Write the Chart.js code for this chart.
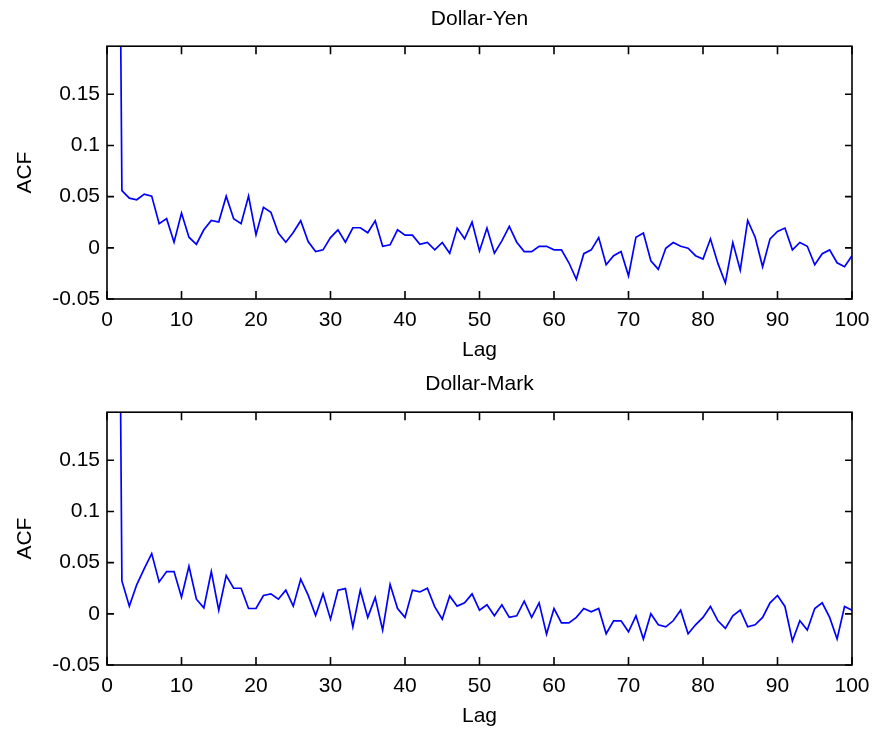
<!DOCTYPE html>
<html>
<head>
<meta charset="utf-8">
<script src="https://cdn.jsdelivr.net/npm/chart.js@4/dist/chart.umd.min.js"></script>
<style>
  html, body { margin: 0; padding: 0; background: #fff; }
  #page { position: relative; width: 879px; height: 735px; overflow: hidden; }
  .panel { position: absolute; left: 0; width: 879px; }
</style>
</head>
<body>
<div id="page">
  <div class="panel" style="top:0;height:367px"><canvas id="yenChart"></canvas></div>
  <div class="panel" style="top:367px;height:368px"><canvas id="markChart"></canvas></div>
</div>
<script>
// lags (matlab style index, first point is lag 0 with acf = 1)
const lags = [1, 2, 3, 4, 5, 6, 7, 8, 9, 10, 11, 12, 13, 14, 15, 16, 17, 18, 19, 20,
  21, 22, 23, 24, 25, 26, 27, 28, 29, 30, 31, 32, 33, 34, 35, 36, 37, 38, 39, 40,
  41, 42, 43, 44, 45, 46, 47, 48, 49, 50, 51, 52, 53, 54, 55, 56, 57, 58, 59, 60,
  61, 62, 63, 64, 65, 66, 67, 68, 69, 70, 71, 72, 73, 74, 75, 76, 77, 78, 79, 80,
  81, 82, 83, 84, 85, 86, 87, 88, 89, 90, 91, 92, 93, 94, 95, 96, 97, 98, 99, 100];

const acfYen = [1, 0.0558, 0.0485, 0.047, 0.0525, 0.0505, 0.0236, 0.0285, 0.0055, 0.034,
  0.0104, 0.0035, 0.0176, 0.0268, 0.0252, 0.0505, 0.0285, 0.0236, 0.0505, 0.0127,
  0.0396, 0.0347, 0.0144, 0.0055, 0.015, 0.0265, 0.0061, -0.0037, -0.002, 0.010,
  0.0176, 0.0055, 0.0196, 0.0196, 0.0147, 0.0265, 0.0015, 0.0029, 0.0176, 0.0124,
  0.0124, 0.0035, 0.0052, -0.002, 0.0052, -0.0053, 0.0193, 0.0088, 0.0252, -0.003,
  0.0193, -0.0053, 0.0068, 0.0209, 0.0055, -0.0037, -0.0037, 0.0015, 0.0015, -0.002,
  -0.002, -0.0146, -0.0307, -0.0057, -0.002, 0.010, -0.0165, -0.0077, -0.0037, -0.0274,
  0.0104, 0.0144, -0.0126, -0.0211, -0.0004, 0.0052, 0.0015, -0.0004, -0.0077, -0.011,
  0.0088, -0.0152, -0.0343, 0.0052, -0.0218, 0.0268, 0.0104, -0.0185, 0.0088, 0.016,
  0.0193, -0.002, 0.0052, 0.0015, -0.0165, -0.0057, -0.002, -0.0146, -0.0185, -0.0077];

const acfMark = [1, 0.0321, 0.0075, 0.0286, 0.0442, 0.0588, 0.0312, 0.0413, 0.0413, 0.0163,
  0.0464, 0.0143, 0.0058, 0.0413, 0.0036, 0.0374, 0.025, 0.025, 0.0052, 0.0052,
  0.0179, 0.0195, 0.0143, 0.0231, 0.0075, 0.0338, 0.0182, -0.0016, 0.0195, -0.0052,
  0.0231, 0.0247, -0.0127, 0.0231, -0.0035, 0.016, -0.0159, 0.0286, 0.0052, -0.0035,
  0.0231, 0.0214, 0.025, 0.0068, -0.0052, 0.0175, 0.0075, 0.0107, 0.0195, 0.0036,
  0.0088, -0.0019, 0.0088, -0.0035, -0.0019, 0.0124, -0.0035, 0.0107, -0.0198, 0.0052,
  -0.0088, -0.0088, -0.0035, 0.0052, 0.0019, 0.0052, -0.0195, -0.0068, -0.0068, -0.0175,
  -0.0019, -0.0246, 0, -0.0107, -0.0127, -0.0068, 0.0036, -0.0195, -0.0107, -0.0035,
  0.0072, -0.0068, -0.0142, -0.0019, 0.0036, -0.0127, -0.0107, -0.0035, 0.0107, 0.0179,
  0.0072, -0.0266, -0.0068, -0.0159, 0.0052, 0.0107, -0.0035, -0.0246, 0.0072, 0.0036];

const xTicks = [0, 10, 20, 30, 40, 50, 60, 70, 80, 90, 100];
const yTicks = [-0.05, 0, 0.05, 0.1, 0.15];

const FONT = '"Liberation Sans", Arial, Helvetica, sans-serif';
const font = { family: FONT, size: 21, weight: 'normal' };

// matlab-like box with inward tick marks on all four sides
const boxPlugin = {
    id: 'box',
    afterDraw(chart) {
        const { ctx, chartArea: a } = chart;
        const xs = chart.scales.x, ys = chart.scales.y;
        ctx.save();
        ctx.strokeStyle = '#000';
        ctx.lineWidth = 1.6;
        ctx.strokeRect(a.left, a.top, a.right - a.left, a.bottom - a.top);
        ctx.beginPath();
        xs.ticks.forEach(t => {
            const px = xs.getPixelForValue(t.value);
            ctx.moveTo(px, a.bottom); ctx.lineTo(px, a.bottom - 8);
            ctx.moveTo(px, a.top); ctx.lineTo(px, a.top + 8);
        });
        ys.ticks.forEach(t => {
            const py = ys.getPixelForValue(t.value);
            ctx.moveTo(a.left, py); ctx.lineTo(a.left + 7, py);
            ctx.moveTo(a.right, py); ctx.lineTo(a.right - 7, py);
        });
        ctx.stroke();
        ctx.restore();
    }
};

function makeChart(id, title, values, g) {
    return new Chart(document.getElementById(id), {
        type: 'line',
        data: {
            labels: lags,
            datasets: [{
                data: values.map((v, i) => ({ x: lags[i], y: v })),
                borderColor: '#0000ff',
                borderWidth: 1.7,
                pointRadius: 0,
                tension: 0,
                fill: false
            }]
        },
        options: {
            responsive: true,
            maintainAspectRatio: false,
            animation: false,
            layout: { padding: { left: 0, right: 27, top: 0, bottom: g.bottomPad } },
            plugins: {
                legend: { display: false },
                tooltip: { enabled: false },
                title: {
                    display: true, text: title, color: '#000', font: font,
                    fullSize: false, // centre over the plot box like matlab does
                    padding: { top: g.titleTop, bottom: g.titleBottom }
                }
            },
            scales: {
                x: {
                    type: 'linear', min: 0, max: 100,
                    afterBuildTicks: s => { s.ticks = xTicks.map(v => ({ value: v })); },
                    afterFit: s => { s.height = g.xHeight; },
                    grid: { display: false, drawTicks: false },
                    border: { display: false },
                    ticks: { color: '#000', font: font, padding: 9, maxRotation: 0, autoSkip: false },
                    title: { display: true, text: 'Lag', color: '#000', font: font, padding: { top: 0, bottom: 0 } }
                },
                y: {
                    min: -0.05, max: 0.197,
                    afterBuildTicks: s => { s.ticks = yTicks.map(v => ({ value: v })); },
                    afterFit: s => { s.width = 107; },
                    grid: { display: false, drawTicks: false },
                    border: { display: false },
                    ticks: { color: '#000', font: font, padding: 7, callback: v => String(+v.toFixed(2)) },
                    title: { display: true, text: 'ACF', color: '#000', font: font, padding: { top: 13, bottom: 0 } }
                }
            }
        },
        plugins: [boxPlugin]
    });
}

makeChart('yenChart', 'Dollar-Yen', acfYen, { titleTop: 7, titleBottom: 14, xHeight: 64, bottomPad: 4 });
makeChart('markChart', 'Dollar-Mark', acfMark, { titleTop: 5, titleBottom: 15, xHeight: 64, bottomPad: 6 });
</script>
</body>
</html>
